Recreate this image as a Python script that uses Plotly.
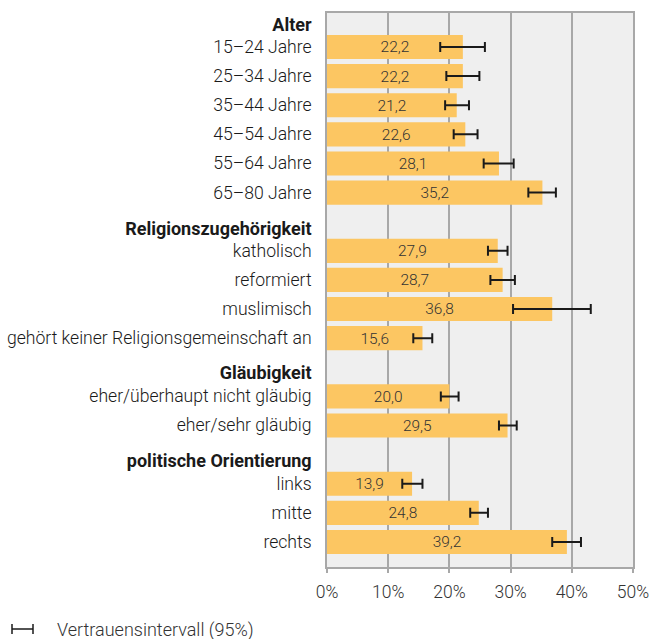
import plotly.graph_objects as go

# Anteile in Prozent mit 95%-Vertrauensintervall
kategorien = ["15–24 Jahre", "25–34 Jahre", "35–44 Jahre", "45–54 Jahre", "55–64 Jahre", "65–80 Jahre",
              "katholisch", "reformiert", "muslimisch", "gehört keiner Religionsgemeinschaft an",
              "eher/überhaupt nicht gläubig", "eher/sehr gläubig",
              "links", "mitte", "rechts"]
positionen = [0, 1, 2, 3, 4, 5, 7, 8, 9, 10, 12, 13, 15, 16, 17]
werte = [22.2, 22.2, 21.2, 22.6, 28.1, 35.2, 27.9, 28.7, 36.8, 15.6, 20.0, 29.5, 13.9, 24.8, 39.2]
ki_unten = [18.5, 19.5, 19.3, 20.7, 25.6, 32.9, 26.3, 26.7, 30.4, 14.1, 18.6, 28.1, 12.3, 23.4, 36.8]
ki_oben = [25.8, 24.9, 23.2, 24.6, 30.5, 37.4, 29.5, 30.7, 43.1, 17.2, 21.5, 31.0, 15.6, 26.3, 41.5]

gruppen = ["Alter", "Religionszugehörigkeit", "Gläubigkeit", "politische Orientierung"]
gruppen_pos = [-0.76, 6.24, 11.2, 14.22]

x_ticks = [0, 10, 20, 30, 40, 50]

texte = [f"{v:.1f}".replace(".", ",") for v in werte]

W, H = 651, 639
ML, MR, MT, MB = 327, 18, 13, 72
FS = 17

fig = go.Figure()
fig.add_trace(go.Bar(
    y=positionen,
    x=werte,
    orientation="h",
    width=0.83,
    marker=dict(color="#FCC662", line=dict(width=0)),
    text=texte,
    textposition="inside",
    insidetextanchor="middle",
    textfont=dict(family="Roboto", size=FS, color="#333333", weight=300),
    error_x=dict(
        type="data",
        symmetric=False,
        array=[h - v for h, v in zip(ki_oben, werte)],
        arrayminus=[v - l for v, l in zip(werte, ki_unten)],
        color="#1a1a1a",
        thickness=2,
        width=5,
    ),
    hoverinfo="skip",
    showlegend=False,
))

tickvals = positionen + gruppen_pos
ticktext = ([f"<span style='font-size:17.6px'>{k}</span>" for k in kategorien]
            + [f"<b><span style='font-size:18px'>{g}</span></b>" for g in gruppen])

fig.update_layout(
    width=W,
    height=H,
    margin=dict(l=ML, r=MR, t=MT, b=MB, autoexpand=False),
    paper_bgcolor="white",
    plot_bgcolor="#EFEFEF",
    font=dict(family="Roboto", size=FS, color="#333333"),
    xaxis=dict(
        range=[0, 50],
        tickvals=x_ticks,
        ticktext=[f"{t}%" for t in x_ticks],
        showgrid=True,
        gridcolor="#A8A8A8",
        gridwidth=1.5,
        zeroline=False,
        showline=True,
        linecolor="#A8A8A8",
        linewidth=2,
        mirror=True,
        ticks="outside",
        ticklen=4,
        tickcolor="#A8A8A8",
        tickwidth=1.5,
        ticklabelstandoff=4,
        automargin=False,
        tickfont=dict(family="Roboto", size=17.5, color="#333333", weight=300),
        fixedrange=True,
    ),
    yaxis=dict(
        range=[17.86, -1.168],
        tickvals=tickvals,
        ticktext=ticktext,
        showgrid=False,
        zeroline=False,
        showline=True,
        linecolor="#A8A8A8",
        linewidth=2,
        mirror=True,
        ticks="",
        ticklabelstandoff=10,
        automargin=False,
        tickfont=dict(family="Roboto", size=FS, color="#1a1a1a", weight=300),
        fixedrange=True,
    ),
)

# Legende für das Vertrauensintervall (Pixelpositionen)
def px_x(p):
    return (p - ML) / (W - ML - MR)
def px_y(p):
    return (H - MB - p) / (H - MT - MB)

lx0, lx1, ly, lh = 12, 33, 629, 5
for x0, y0, x1, y1 in [(lx0, ly, lx1, ly), (lx0, ly - lh, lx0, ly + lh), (lx1, ly - lh, lx1, ly + lh)]:
    fig.add_shape(type="line", xref="paper", yref="paper",
                  x0=px_x(x0), x1=px_x(x1), y0=px_y(y0), y1=px_y(y1),
                  line=dict(color="#1a1a1a", width=1.5))

fig.add_annotation(
    xref="paper", yref="paper",
    x=px_x(55), y=px_y(630),
    xanchor="left", yanchor="middle",
    text="Vertrauensintervall (95%)",
    showarrow=False,
    font=dict(family="Roboto", size=18, color="#333333", weight=300),
)

# Seitenrand entfernen, damit die Figur genau ins Fenster passt
fig.write_html("out.html",
               config={"displayModeBar": False},
               post_script="document.body.style.margin='0';document.body.style.overflow='hidden';")
